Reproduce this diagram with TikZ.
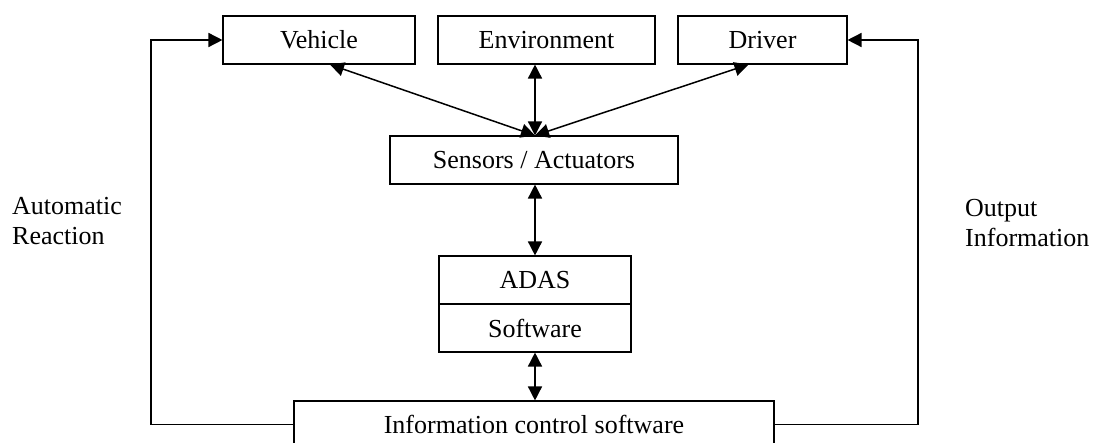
\documentclass[tikz,border=0pt]{standalone}
\usepackage{fontspec}
\setmainfont{Liberation Serif}
\usetikzlibrary{arrows.meta,calc}
\begin{document}
\begin{tikzpicture}[x=1pt,y=-1pt,
  box/.style={draw,line width=1.1pt,inner sep=0pt,minimum height=48pt,font=\fontsize{26}{30}\selectfont},
  conn/.style={line width=1.5pt,-{Triangle[length=14pt,width=14pt]}},
  biconn/.style={line width=1.5pt,{Triangle[length=14pt,width=14pt]}-{Triangle[length=14pt,width=14pt]}},
  lbl/.style={align=left,inner sep=0pt,font=\fontsize{26}{30}\selectfont}]
\clip (0,0) rectangle (1093,443);
\fill[white] (0,0) rectangle (1093,443);
\node[box,minimum width=192pt] (veh) at (319,40) {Vehicle};
\node[box,minimum width=217pt] (env) at (546.5,40) {Environment};
\node[box,minimum width=169pt] (drv) at (762.5,40) {Driver};
\node[box,minimum width=288pt] (sens) at (534,160) {Sensors / Actuators};
\node[box,minimum width=192pt] (adas) at (535,280) {ADAS};
\node[box,minimum width=192pt] (soft) at (535,328) {Software};
\node[box,minimum width=480pt,minimum height=47pt] (info) at (534,424.5) {Information control software};
\node[lbl,anchor=base west] (auto) at (12,245) {Automatic\\Reaction};
\node[lbl,anchor=base west] (out) at (965,247) {Output\\Information};
\coordinate (vtip) at ($(veh.south)+(11,0)$);
\coordinate (dtip) at ($(drv.south)+(-14,0)$);
\coordinate (stop) at ($(sens.north)+(1,0)$);
\draw[biconn] (stop) -- (vtip);
\draw[biconn] (stop) -- (dtip);
\draw[biconn] (stop) -- (stop |- env.south);
\draw[biconn] (adas.north) -- (adas.north |- sens.south);
\draw[biconn] (info.north -| soft.south) -- (soft.south);
\draw[conn] (info.west) -- (151,424.5) |- (veh.west);
\draw[conn] (info.east) -- (918,424.5) |- (drv.east);
\end{tikzpicture}
\end{document}
